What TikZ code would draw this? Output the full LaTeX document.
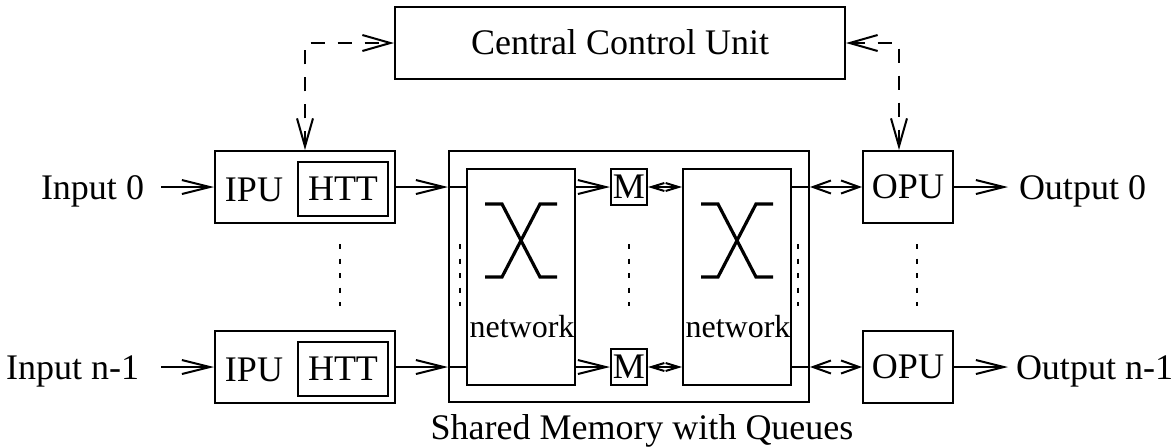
\documentclass[tikz,border=0pt]{standalone}
\usepackage{fontspec}
\setmainfont{Liberation Serif}
\usetikzlibrary{arrows.meta,calc}

\tikzset{
  box/.style={draw, line width=1pt, inner sep=0pt},
  captext/.style={text height=11.9pt, text depth=0pt},
  big/.style={-{Straight Barb[length=14pt,width=7pt]}},
  mid/.style={{Straight Barb[length=9pt,width=6.5pt]}-{Straight Barb[length=9pt,width=6.5pt]}},
  small/.style={{Straight Barb[length=6.5pt,width=4pt]}-{Straight Barb[length=6.5pt,width=4pt]}},
  ctrl/.style={dash pattern=on 7pt off 6.5pt,
    {Straight Barb[length=14pt,width=8pt]}-{Straight Barb[length=14pt,width=8pt]}},
  ellip/.style={line width=1pt, dash pattern=on 2.5pt off 4.75pt},
  xline/.style={line width=1.6pt},
  netlabel/.style={anchor=base, font=\fontsize{16}{19}\selectfont},
}

\begin{document}
\begin{tikzpicture}[x=0.5pt, y=-0.5pt, line width=1pt,
  font=\fontsize{18}{22}\selectfont]
\useasboundingbox (0,0) rectangle (1175,446);

% control unit
\node[box, captext, minimum width=225pt, minimum height=36pt] (ccu) at (620,43) {Central Control Unit};

% input processing units with their header tables, output units, memories
\foreach \i/\y in {0/187, 1/367} {
  \node[box, minimum width=90pt, minimum height=36pt] (ipu\i) at (305,\y) {};
  \node[captext] (ipul\i) at (254,\y+3) {IPU};
  \node[box, captext, minimum width=45pt, minimum height=27pt] (htt\i) at (343,\y+2) {HTT};
  \node[box, captext, minimum width=45pt, minimum height=36pt] (opu\i) at (908,\y) {OPU};
  \node[box, captext, minimum width=18pt, minimum height=18pt] (m\i) at (629,\y) {M};
}

% shared memory and the two switching networks
\node[box, minimum width=180pt, minimum height=125.5pt] (shm) at (629,276.5) {};
\node[box, minimum width=54pt, minimum height=108pt] (net0) at (521,277) {};
\node[box, minimum width=54pt, minimum height=108pt] (net1) at (737,277) {};
\node[netlabel] (netl0) at (522,337) {network};
\node[netlabel] (netl1) at (738,337) {network};
\node[anchor=base] (shml) at (642,439) {Shared Memory with Queues};

% crossing symbols
\foreach \n in {net0, net1} {
  \draw[xline] ([shift={(-36,-73)}]\n.center) -- ([shift={(-19,-73)}]\n.center)
    -- ([shift={(19,0)}]\n.center) -- ([shift={(36,0)}]\n.center);
  \draw[xline] ([shift={(-36,0)}]\n.center) -- ([shift={(-19,0)}]\n.center)
    -- ([shift={(19,-73)}]\n.center) -- ([shift={(36,-73)}]\n.center);
}

% port labels
\node[anchor=base east, inner sep=0pt] (in0) at (145,199) {Input 0};
\node[anchor=base east, inner sep=0pt] (in1) at (140,379) {Input n-1};
\node[anchor=base west, inner sep=0pt] (out0) at (1018,199) {Output 0};
\node[anchor=base west, inner sep=0pt] (out1) at (1015,379) {Output n-1};
\coordinate (s0) at (161,187);
\coordinate (s1) at (161,367);
\coordinate (e0) at (1008,187);
\coordinate (e1) at (1008,367);

% data path
\foreach \i in {0,1} {
  \draw[big] (s\i) -- (ipu\i.west);
  \draw[big] (ipu\i.east) -- (shm.west |- ipu\i.east);
  \draw (shm.west |- ipu\i.east) -- (net0.west |- ipu\i.east);
  \draw[big] (net0.east |- m\i) -- (m\i.west);
  \draw[small] (m\i.east) -- (net1.west |- m\i);
  \draw (net1.east |- opu\i) -- (shm.east |- opu\i);
  \draw[mid] (shm.east |- opu\i) -- (opu\i.west);
  \draw[big] (opu\i.east) -- (e\i);
}

% control signalling
\draw[ctrl] (ipu0.north) |- (ccu.west);
\draw[ctrl] (ccu.east) -| ([xshift=-4.5pt]opu0.north);

% ellipses
\foreach \x in {340, 460, 629, 798, 917}
  \draw[ellip] (\x,244) -- (\x,306);
\end{tikzpicture}
\end{document}
